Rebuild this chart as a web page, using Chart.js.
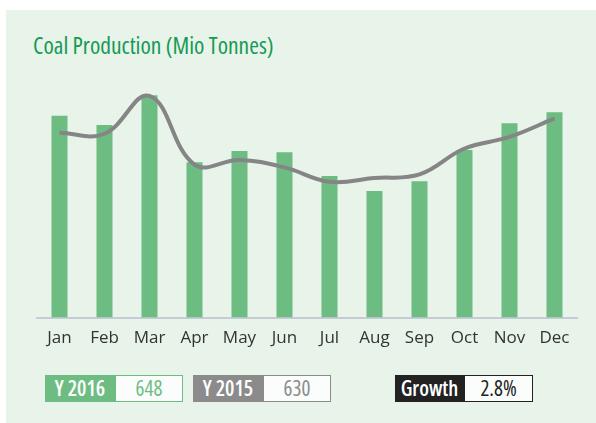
<!DOCTYPE html>
<html lang="en">
<head>
  <meta charset="UTF-8">
  <title>Coal Production</title>
  <script src="https://cdn.jsdelivr.net/npm/chart.js"></script>
  <style>
    body {
      margin: 0;
      background: #fff;
      font-family: "Open Sans", sans-serif;
    }

    .panel {
      position: absolute;
      left: 6px;
      top: 10px;
      width: 590px;
      height: 413px;
      background: #e8f3ea;
    }

    .title {
      position: absolute;
      left: 33px;
      top: 29px;
      font-family: "Open Sans", sans-serif;
      font-stretch: 75%;
      font-size: 23.5px;
      color: #159a55;
    }

    .chart-wrap {
      position: absolute;
      left: 0;
      top: 0;
      width: 596px;
      height: 360px;
    }

    .stat {
      position: absolute;
      top: 375px;
      height: 27px;
      width: 138px;
      display: flex;
      box-sizing: border-box;
      font-size: 21px;
      font-stretch: 75%;
      line-height: 27px;
    }

    .stat .label {
      width: 70px;
      color: #fff;
      font-weight: 600;
      text-align: center;
    }

    .stat .value {
      flex: 1;
      background: #fafdfb;
      text-align: center;
      box-sizing: border-box;
      line-height: 24px;
    }
  </style>
</head>
<body>

  <div class="panel"></div>
  <div class="title">Coal Production (Mio Tonnes)</div>
  <div class="chart-wrap">
    <canvas id="coalChart" width="596" height="360"></canvas>
  </div>

  <div class="stat" style="left:45px">
    <div class="label" style="background:#6dbd83">Y 2016</div>
    <div class="value" style="border:1.5px solid #6dbd83; color:#6dbd83">648</div>
  </div>
  <div class="stat" style="left:193px">
    <div class="label" style="background:#8b8b8b">Y 2015</div>
    <div class="value" style="border:1.5px solid #8b8b8b; color:#8b8b8b">630</div>
  </div>
  <div class="stat" style="left:395px">
    <div class="label" style="background:#222; width:69px">Growth</div>
    <div class="value" style="border:1.5px solid #222; color:#222">2.8%</div>
  </div>

  <script>
  const months = ["Jan", "Feb", "Mar", "Apr", "May", "Jun", "Jul", "Aug", "Sep", "Oct", "Nov", "Dec"];
  // monthly output, million tonnes
  const prod2016 = [63.0, 60.1, 69.4, 48.5, 52.0, 51.6, 44.2, 39.5, 42.6, 52.3, 60.7, 64.1];
  const prod2015 = [57.7, 57.4, 69.2, 47.8, 49.2, 46.9, 42.4, 43.6, 44.7, 52.8, 56.4, 62.2];

  const ctx = document.getElementById("coalChart").getContext("2d");

  new Chart(ctx, {
    data: {
      labels: months,
      datasets: [
        {
          type: "line",
          label: "Y 2015",
          data: prod2015,
          borderColor: "#858585",
          borderWidth: 4,
          pointRadius: 0,
          tension: 0.4,
          fill: false,
          clip: false,
          order: 0
        },
        {
          type: "bar",
          label: "Y 2016",
          data: prod2016,
          backgroundColor: "#6dbd83",
          categoryPercentage: 1,
          barPercentage: 0.356,
          order: 1
        }
      ]
    },
    options: {
      responsive: false,
      animation: false,
      layout: {
        padding: { left: 37, right: 19, top: 87, bottom: 10 }
      },
      plugins: {
        legend: { display: false },
        tooltip: { enabled: false }
      },
      scales: {
        x: {
          grid: { display: false },
          border: { display: true, color: "#c5ccd5", width: 2 },
          ticks: {
            color: "#333",
            padding: 2,
            font: { family: "Open Sans", size: 17 }
          }
        },
        y: {
          display: false,
          min: 0,
          max: 72
        }
      }
    }
  });
  </script>
</body>
</html>
